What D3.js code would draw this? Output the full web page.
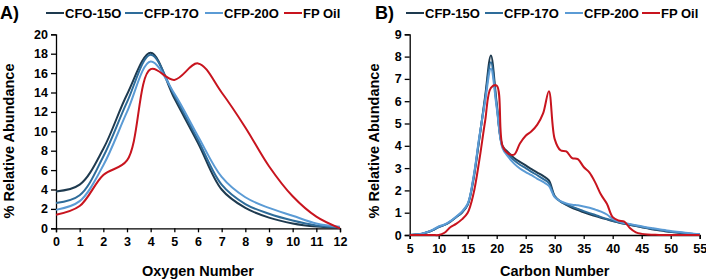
<!DOCTYPE html>
<meta charset="utf-8">
<style>
    body { margin: 0; background: #fff; }
    svg text { font-family: "Liberation Sans", Arial, sans-serif; font-weight: bold; fill: #000; }
    .tick text { font-size: 12.5px; }
    .axis path, .axis line { stroke: #000; stroke-width: 1.3; }
    .series { fill: none; stroke-width: 2; }
</style>
<svg width="706" height="280"></svg>
<script src="https://d3js.org/d3.v7.min.js"></script>
<script>

    // panel A: oxygen number
    var oxygen = [0, 1, 2, 3, 4, 5, 6, 7, 8, 9, 10, 11, 12];
    var cfo15A = [3.8, 4.5, 8.2, 13.8, 18.1, 13.4, 8.8, 4.0, 2.1, 1.1, 0.5, 0.18, 0.05];
    var cfp17A = [2.6, 3.4, 7.4, 13.0, 17.9, 13.7, 9.1, 4.5, 2.5, 1.5, 0.8, 0.3, 0.1];
    var cfp20A = [1.9, 2.8, 6.5, 12.0, 17.2, 13.9, 9.5, 5.3, 3.2, 2.1, 1.3, 0.5, 0.15];
    var fpOilA = [1.4, 2.3, 5.5, 7.0, 16.4, 15.3, 17.0, 14.0, 10.4, 6.4, 3.3, 1.2, 0.0];

    // panel B: carbon number
    var carbon = d3.range(5, 56);
    var cfp15B = [0, 0.02, 0.05, 0.12, 0.22, 0.36, 0.45, 0.6, 0.8, 1.0, 1.35, 2.5, 4.3, 6.2, 8.05,
        5.9, 4.0, 3.7, 3.45, 3.28, 3.12, 2.95, 2.8, 2.65, 2.45, 1.75, 1.5, 1.35, 1.22, 1.12, 1.02,
        0.93, 0.85, 0.77, 0.7, 0.63, 0.56, 0.5, 0.45, 0.4, 0.35, 0.3, 0.25, 0.21, 0.17, 0.14, 0.11,
        0.08, 0.06, 0.04, 0.02];
    var cfp17B = [0, 0.02, 0.05, 0.12, 0.22, 0.36, 0.45, 0.6, 0.8, 1.02, 1.38, 2.55, 4.35, 6.1, 7.75,
        5.8, 3.95, 3.6, 3.35, 3.15, 3.0, 2.83, 2.68, 2.52, 2.33, 1.72, 1.5, 1.38, 1.27, 1.17, 1.07,
        0.98, 0.9, 0.8, 0.72, 0.64, 0.57, 0.51, 0.46, 0.41, 0.36, 0.31, 0.27, 0.23, 0.19, 0.15, 0.12,
        0.09, 0.07, 0.05, 0.03];
    var cfp20B = [0, 0.02, 0.06, 0.13, 0.24, 0.38, 0.47, 0.62, 0.82, 1.05, 1.4, 2.6, 4.4, 6.0, 7.45,
        5.7, 3.9, 3.5, 3.2, 2.98, 2.82, 2.68, 2.52, 2.38, 2.2, 1.7, 1.52, 1.42, 1.36, 1.33, 1.28,
        1.22, 1.14, 1.05, 0.92, 0.72, 0.6, 0.54, 0.49, 0.44, 0.39, 0.34, 0.3, 0.26, 0.22, 0.18, 0.15,
        0.12, 0.09, 0.06, 0.04];
    var fpOilB = [0, 0, 0, 0, 0, 0, 0.1, 0.35, 0.5, 0.7, 1.0, 1.85, 3.35, 5.1, 6.6,
        6.7, 4.0, 3.65, 3.6, 4.1, 4.45, 4.65, 4.95, 5.45, 6.45, 4.3, 3.8, 3.75, 3.45, 3.4, 3.05,
        2.8, 2.35, 1.8, 1.4, 0.8, 0.65, 0.6, 0.3, 0.12, 0.05, 0.02, 0.01, 0, 0, 0, 0,
        0, 0, 0, 0];

    var labelsA = ["CFO-15O", "CFP-17O", "CFP-20O", "FP Oil"];
    var labelsB = ["CFP-15O", "CFP-17O", "CFP-20O", "FP Oil"];
    var colors = ["#1e3a4f", "#2e6c9a", "#5b9bd5", "#c8141e"];

    var svg = d3.select("svg");

    function panel(opt) {
        var x = d3.scaleLinear().domain(opt.xDomain).range(opt.xRange),
            y = d3.scaleLinear().domain(opt.yDomain).range(opt.yRange);

        var g = svg.append("g");

        g.append("g")
            .attr("class", "axis")
            .attr("transform", "translate(0," + opt.yRange[0] + ")")
            .call(d3.axisBottom(x).tickValues(opt.xTicks).tickSize(4).tickPadding(5));

        g.append("g")
            .attr("class", "axis")
            .attr("transform", "translate(" + opt.xRange[0] + ",0)")
            .call(d3.axisLeft(y).tickValues(opt.yTicks).tickSize(5).tickPadding(3));

        var line = d3.line()
            .x(function(d) { return x(d[0]); })
            .y(function(d) { return y(d[1]); })
            .curve(d3.curveCatmullRom.alpha(0.5));

        opt.series.forEach(function(s, i) {
            var pts = opt.xs.map(function(v, j) { return [v, s[j]]; });
            g.append("path")
                .attr("class", "series")
                .attr("d", line(pts))
                .attr("stroke", colors[i]);
        });

        // axis titles
        g.append("text")
            .attr("x", (opt.xRange[0] + opt.xRange[1]) / 2)
            .attr("y", 276)
            .attr("text-anchor", "middle")
            .style("font-size", "14.5px")
            .text(opt.xTitle);

        g.append("text")
            .attr("transform", "translate(" + opt.yTitleX + ",141) rotate(-90)")
            .attr("text-anchor", "middle")
            .style("font-size", "14.5px")
            .text("% Relative Abundance");

        // panel letter
        g.append("text")
            .attr("x", opt.letterX)
            .attr("y", 19)
            .style("font-size", "18px")
            .text(opt.letter);

        // legend
        var lg = g.selectAll(".leg")
            .data(opt.labels)
            .enter().append("g")
            .attr("transform", function(d, i) {
                return "translate(" + opt.legendX[i] + ",13)";
            });
        lg.append("line")
            .attr("x1", 0).attr("x2", 18)
            .attr("stroke", function(d, i) { return colors[i]; })
            .attr("stroke-width", 2);
        lg.append("text")
            .attr("x", 19)
            .attr("dy", "0.36em")
            .style("font-size", "13px")
            .text(function(d) { return d; });
    }

    panel({
        xs: oxygen,
        series: [cfo15A, cfp17A, cfp20A, fpOilA],
        xDomain: [0, 12], xRange: [56, 340],
        yDomain: [0, 20], yRange: [228.3, 34.3],
        xTicks: d3.range(0, 13), yTicks: d3.range(0, 21, 2),
        xTitle: "Oxygen Number", yTitleX: 14,
        letter: "A)", letterX: 0,
        labels: labelsA, legendX: [46, 125, 205, 284]
    });

    panel({
        xs: carbon,
        series: [cfp15B, cfp17B, cfp20B, fpOilB],
        xDomain: [5, 55], xRange: [409.7, 699.7],
        yDomain: [0, 9], yRange: [235, 34.3],
        xTicks: d3.range(5, 56, 5), yTicks: d3.range(0, 10),
        xTitle: "Carbon Number", yTitleX: 379,
        letter: "B)", letterX: 375,
        labels: labelsB, legendX: [406, 485, 565, 642]
    });
</script>
